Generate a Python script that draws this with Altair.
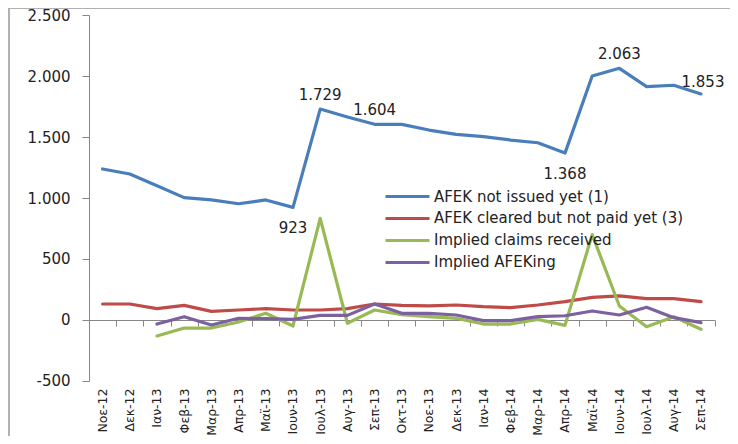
import altair as alt
import pandas as pd

months = ["Νοε-12", "Δεκ-12", "Ιαν-13", "Φεβ-13", "Μαρ-13", "Απρ-13", "Μαϊ-13",
          "Ιουν-13", "Ιουλ-13", "Αυγ-13", "Σεπ-13", "Οκτ-13", "Νοε-13", "Δεκ-13",
          "Ιαν-14", "Φεβ-14", "Μαρ-14", "Απρ-14", "Μαϊ-14", "Ιουν-14", "Ιουλ-14",
          "Αυγ-14", "Σεπ-14"]

series_names = ["AFEK not issued yet (1)", "AFEK cleared but not paid yet (3)",
                "Implied claims received", "Implied AFEKing"]

not_issued = [1238, 1197, 1100, 1003, 984, 953, 984, 923, 1729, 1664, 1604, 1604,
              1557, 1522, 1503, 1475, 1453, 1368, 2000, 2063, 1913, 1924, 1853]
cleared_not_paid = [131, 131, 93, 120, 71, 82, 93, 82, 82, 93, 131, 120,
                    115, 123, 109, 101, 123, 150, 186, 197, 175, 175, 150]
claims_received = [None, None, -131, -66, -66, -16, 55, -49, 833, -27, 82, 44,
                   27, 14, -33, -33, 5, -44, 700, 115, -55, 27, -76]
afeking = [None, None, -33, 27, -41, 14, 11, 5, 38, 38, 131, 55,
           55, 41, -5, -5, 27, 35, 74, 41, 104, 19, -22]

colors = ["#4A7EBB", "#BE4B48", "#98B954", "#7D60A0"]
y_ticks = [-500, 0, 500, 1000, 1500, 2000, 2500]

labels_above = ["Ιουλ-13", "Σεπ-13", "Ιουν-14"]
labels_below = ["Ιουν-13", "Απρ-14"]
labels_right = ["Σεπ-14"]

rows = []
for name, vals in zip(series_names, [not_issued, cleared_not_paid, claims_received, afeking]):
    for i, (m, v) in enumerate(zip(months, vals)):
        if v is not None:
            rows.append({"month": m, "series": name, "value": v, "idx": i})
df = pd.DataFrame(rows)

lab = pd.DataFrame({
    "month": months,
    "value": not_issued,
    "text": [f"{v:,}".replace(",", ".") for v in not_issued],
})

W = 625.6
H = 366
FONT = "DejaVu Sans"
TXT = "#222222"
AX = "#868686"

xscale = alt.Scale(domain=months, padding=0.5)
yscale = alt.Scale(domain=[-500, 2500], nice=False)

x_main = alt.X("month:N", scale=xscale, title=None, sort=months,
               axis=alt.Axis(orient="bottom", labelAngle=-90, domain=False, ticks=False,
                             labelPadding=7, labelFont=FONT, labelFontSize=12.5,
                             labelColor=TXT))
y_main = alt.Y("value:Q", scale=yscale, title=None,
               axis=alt.Axis(values=y_ticks, grid=False, domainColor=AX, tickColor=AX,
                             tickSize=7, labelPadding=12, labelFont=FONT, labelFontSize=15,
                             labelColor=TXT,
                             labelExpr="replace(replace(format(datum.value, ',d'), ',', '.'), '\u2212', '-')"))

frame = alt.Chart(lab).mark_rect(fill=None, stroke="#B0B0B0", strokeWidth=1).encode(
    x=alt.value(-80), x2=alt.value(W + 60), y=alt.value(-6.5), y2=alt.value(H + 90)
)

zero_axis = alt.Chart(lab).mark_point(opacity=0).encode(
    x=alt.X("month:N", scale=xscale, sort=months, title=None,
            axis=alt.Axis(orient="bottom", offset=-61, labels=False, domainColor=AX,
                          tickColor=AX, tickSize=6, tickOffset=W / 46)),
)

lines = alt.Chart(df).mark_line(strokeWidth=3.2, strokeJoin="round", strokeCap="round").encode(
    x=x_main,
    y=y_main,
    color=alt.Color("series:N", sort=series_names,
                    scale=alt.Scale(domain=series_names, range=colors),
                    legend=alt.Legend(title=None, orient="none", legendX=311, legendY=174,
                                      symbolType="M-4,0H4", symbolSize=121,
                                      symbolStrokeWidth=3.2, labelFont=FONT,
                                      labelFontSize=15, labelColor=TXT, rowPadding=6,
                                      labelOffset=19, labelLimit=400)),
    order="idx:Q",
)

base_lab = alt.Chart(lab).encode(
    x=alt.X("month:N", scale=xscale, sort=months, axis=None),
    y=alt.Y("value:Q", scale=yscale),
    text="text:N",
)
t_above = base_lab.transform_filter(alt.FieldOneOfPredicate(field="month", oneOf=labels_above)).mark_text(
    dy=-14, font=FONT, fontSize=15, color=TXT)
t_below = base_lab.transform_filter(alt.FieldOneOfPredicate(field="month", oneOf=labels_below)).mark_text(
    dy=21, font=FONT, fontSize=15, color=TXT)
t_right = base_lab.transform_filter(alt.FieldOneOfPredicate(field="month", oneOf=labels_right)).mark_text(
    dy=-12, dx=2, align="center", font=FONT, fontSize=15, color=TXT)

chart = alt.layer(frame, zero_axis, lines, t_above, t_below, t_right).resolve_axis(
    x="independent"
).properties(
    width=W, height=H, autosize="none",
    padding={"left": 81, "top": 7, "right": 15, "bottom": 55},
).configure_view(stroke=None)

chart.save("out.html", embed_options={"renderer": "svg", "actions": False})
